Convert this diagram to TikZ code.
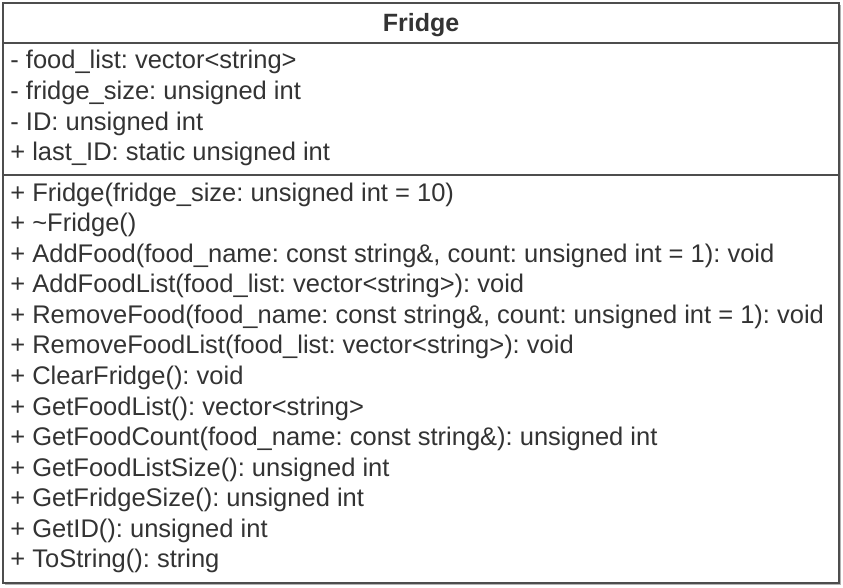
\documentclass[tikz,border=0pt]{standalone}
\usepackage{fontspec}
\setmainfont{Liberation Sans}
\usetikzlibrary{positioning}
\definecolor{umltext}{HTML}{333333}
\definecolor{umlline}{HTML}{4D4D4D}
\tikzset{every picture/.style={line width=0.75pt}}

\begin{document}
\frenchspacing
\begin{tikzpicture}[x=1pt, y=-1pt,
    member/.style={anchor=base west, inner sep=0pt, text=umltext,
        font=\fontsize{25.5}{28}\selectfont},
    title/.style={anchor=base, inner sep=0pt, text=umltext,
        font=\fontsize{25}{28}\selectfont\bfseries},
    frame/.style={draw=umlline, line width=1.8pt}]
    \useasboundingbox (0,0) rectangle (843,588);

    % Klassenrahmen
    \fill[white] (3,3) rectangle (839,583);
    \draw[gray!60, line width=1.5pt] (840.5,5) -- (840.5,584.5) -- (5,584.5);
    \draw[frame] (3,3) rectangle (839,583);

    % Trennlinien
    \coordinate (s1w) at (3,43);   \coordinate (s1e) at (839,43);
    \coordinate (s2w) at (3,175);  \coordinate (s2e) at (839,175);
    \draw[frame] (s1w) -- (s1e);
    \draw[frame] (s2w) -- (s2e);

    % Klassenname
    \node[title] (name) at (421,32) {Fridge};

    % Attribute
    \foreach \txt [count=\i from 0] in {
        - food\_list: vector<string>,
        - fridge\_size: unsigned int,
        - ID: unsigned int,
        + last\_ID: static unsigned int}
        \node[member] (a\i) at (10,69+30.58*\i) {\txt};

    % Methoden
    \foreach \txt [count=\i from 0] in {
        + Fridge(fridge\_size: unsigned int = 10),
        + \char`\~Fridge(),
        + AddFood(food\_name: const string\&{,} count: unsigned int = 1): void,
        + AddFoodList(food\_list: vector<string>): void,
        + RemoveFood(food\_name: const string\&{,} count: unsigned int = 1): void,
        + RemoveFoodList(food\_list: vector<string>): void,
        + ClearFridge(): void,
        + GetFoodList(): vector<string>,
        + GetFoodCount(food\_name: const string\&): unsigned int,
        + GetFoodListSize(): unsigned int,
        + GetFridgeSize(): unsigned int,
        + GetID(): unsigned int,
        + ToString(): string}
        \node[member] (m\i) at (10,201+30.58*\i) {\txt};
\end{tikzpicture}
\end{document}
